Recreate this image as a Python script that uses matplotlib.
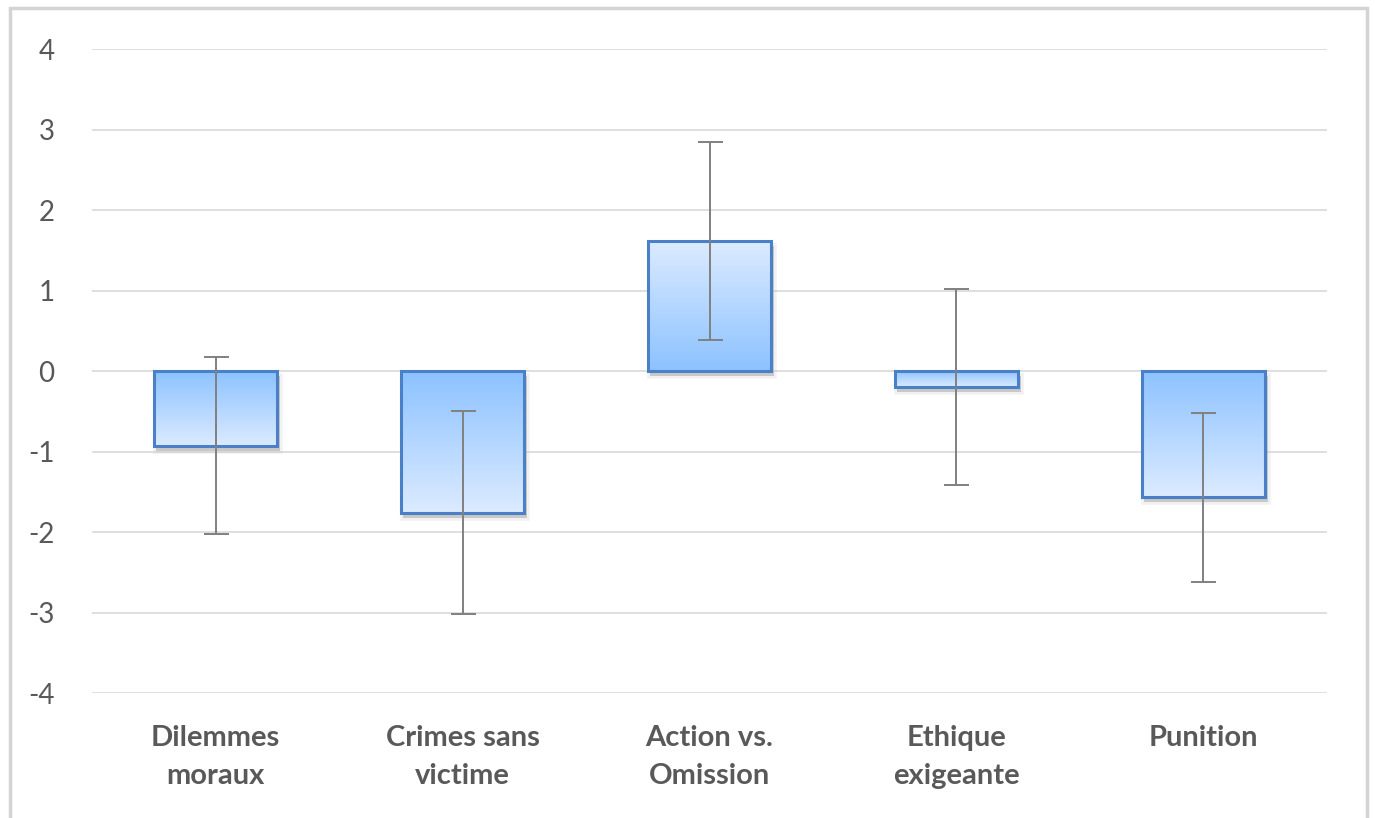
import numpy as np
import matplotlib.pyplot as plt
import matplotlib.patheffects as pe
from matplotlib.colors import LinearSegmentedColormap
from matplotlib.patches import Rectangle

categories = ['Dilemmes\nmoraux', 'Crimes sans\nvictime', 'Action vs.\nOmission', 'Ethique\nexigeante', 'Punition']
means = [-0.93, -1.76, 1.61, -0.20, -1.57]
errors = [1.10, 1.26, 1.23, 1.22, 1.05]
yticks = [-4, -3, -2, -1, 0, 1, 2, 3, 4]

plt.rcParams['font.family'] = ['Lato', 'DejaVu Sans']

fig = plt.figure(figsize=(13.75, 8.18), dpi=100)
ax = fig.add_axes([0.067, 0.1528, 0.898, 0.7872])

x = np.arange(len(categories))
width = 0.5
bars = ax.bar(x, means, width=width, color='none', edgecolor='#4a80c8', linewidth=2.2, zorder=3)

# gradient: darker near the zero line, lighter toward the bar end
cmap = LinearSegmentedColormap.from_list('bg', ['#8cc2ff', '#dcebff'])
grad = np.linspace(0, 1, 256).reshape(-1, 1)
for b, m in zip(bars, means):
    x0 = b.get_x()
    if m >= 0:
        extent = (x0, x0 + width, 0, m)
        img = grad
    else:
        extent = (x0, x0 + width, m, 0)
        img = grad[::-1]
    im = ax.imshow(img, cmap=cmap, extent=extent, origin='lower', aspect='auto', zorder=2.5)
    im.set_clip_path(b)
    # soft shadow under the bar
    sh = Rectangle((x0 + 0.01, min(0, m) - 0.06), width, abs(m), facecolor='#9a9a9a',
                   edgecolor='none', alpha=0.35, zorder=2,
                   path_effects=[pe.withStroke(linewidth=4, foreground='#bdbdbd', alpha=0.2)])
    ax.add_patch(sh)

ax.errorbar(x, means, yerr=errors, fmt='none', ecolor='#808080', elinewidth=1.4,
            capsize=9, capthick=1.4, zorder=4)

ax.set_xlim(-0.5, len(categories) - 0.5)
ax.set_ylim(-4, 4)
ax.set_yticks(yticks)
ax.set_yticklabels([str(t) for t in yticks])
ax.yaxis.grid(True, color='#d9d9d9', linewidth=1.2, zorder=0)
ax.set_axisbelow(True)
for s in ax.spines.values():
    s.set_visible(False)
ax.set_xticks(x)
ax.set_xticklabels(categories, fontsize=21, fontweight='bold', color='#595959', linespacing=1.58)
ax.tick_params(axis='x', length=0, pad=23)
ax.tick_params(axis='y', length=0, pad=27, labelsize=20, labelcolor='#595959')

# outer chart border
fig.patches.append(Rectangle((10 / 1375, -0.05), 1357 / 1375, 1.05 - 8 / 818,
                             transform=fig.transFigure, fill=False,
                             edgecolor='#d4d4d4', linewidth=2.5))

plt.savefig('out.png', dpi=100)
